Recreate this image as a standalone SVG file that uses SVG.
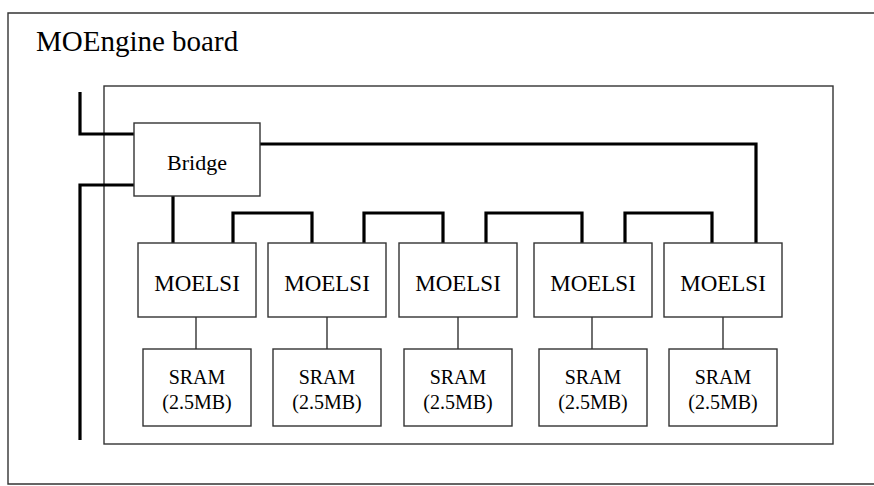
<svg xmlns="http://www.w3.org/2000/svg" width="874" height="486" viewBox="0 0 874 486">
<style>
.box{fill:#fff;stroke:#333;stroke-width:1.4}
.thin{fill:none;stroke:#333;stroke-width:1.4}
.thick{fill:none;stroke:#000;stroke-width:3.2;stroke-linejoin:miter}
text{font-family:"Liberation Serif","Times New Roman",serif;fill:#000;text-anchor:middle}
.lbl{font-size:23px}
.sm{font-size:20px}
</style>
<rect width="874" height="486" fill="#fff"/>
<g id="board">
<path class="thin" d="M878,13 H8 V484 H878"/>
<text x="36" y="51" style="font-size:29px;text-anchor:start">MOEngine board</text>
<rect class="thin" x="104" y="86" width="729" height="358"/>
</g>
<g id="connectors">
<path class="thick" d="M80,92 V134 H134"/>
<path class="thick" d="M134,185 H80 V440"/>
<path class="thick" d="M260,144 H756 V243"/>
<path class="thick" d="M173,196 V243"/>
<path class="thick" d="M233,243 V213 H312 V243"/>
<path class="thick" d="M364,243 V213 H443 V243"/>
<path class="thick" d="M486,243 V213 H582 V243"/>
<path class="thick" d="M625,243 V213 H712 V243"/>
<path class="thin" d="M196,317 V349"/>
<path class="thin" d="M327,317 V349"/>
<path class="thin" d="M458,317 V349"/>
<path class="thin" d="M592,317 V349"/>
<path class="thin" d="M723,317 V349"/>
</g>
<g id="bridge">
<rect class="box" x="134" y="123" width="126" height="73"/>
<text class="lbl" x="197" y="170" style="font-size:22px">Bridge</text>
</g>
<g id="moelsi1"><rect class="box" x="138" y="243" width="118" height="74"/><text class="lbl" x="197" y="291">MOELSI</text></g>
<g id="moelsi2"><rect class="box" x="268" y="243" width="118" height="74"/><text class="lbl" x="327" y="291">MOELSI</text></g>
<g id="moelsi3"><rect class="box" x="399" y="243" width="118" height="74"/><text class="lbl" x="458" y="291">MOELSI</text></g>
<g id="moelsi4"><rect class="box" x="534" y="243" width="118" height="74"/><text class="lbl" x="593" y="291">MOELSI</text></g>
<g id="moelsi5"><rect class="box" x="664" y="243" width="118" height="74"/><text class="lbl" x="723" y="291">MOELSI</text></g>
<g id="sram1"><rect class="box" x="143" y="349" width="108" height="77"/><text class="sm" x="197" y="384">SRAM</text><text class="sm" x="197" y="409">(2.5MB)</text></g>
<g id="sram2"><rect class="box" x="273" y="349" width="108" height="77"/><text class="sm" x="327" y="384">SRAM</text><text class="sm" x="327" y="409">(2.5MB)</text></g>
<g id="sram3"><rect class="box" x="404" y="349" width="108" height="77"/><text class="sm" x="458" y="384">SRAM</text><text class="sm" x="458" y="409">(2.5MB)</text></g>
<g id="sram4"><rect class="box" x="539" y="349" width="108" height="77"/><text class="sm" x="593" y="384">SRAM</text><text class="sm" x="593" y="409">(2.5MB)</text></g>
<g id="sram5"><rect class="box" x="669" y="349" width="108" height="77"/><text class="sm" x="723" y="384">SRAM</text><text class="sm" x="723" y="409">(2.5MB)</text></g>
</svg>
